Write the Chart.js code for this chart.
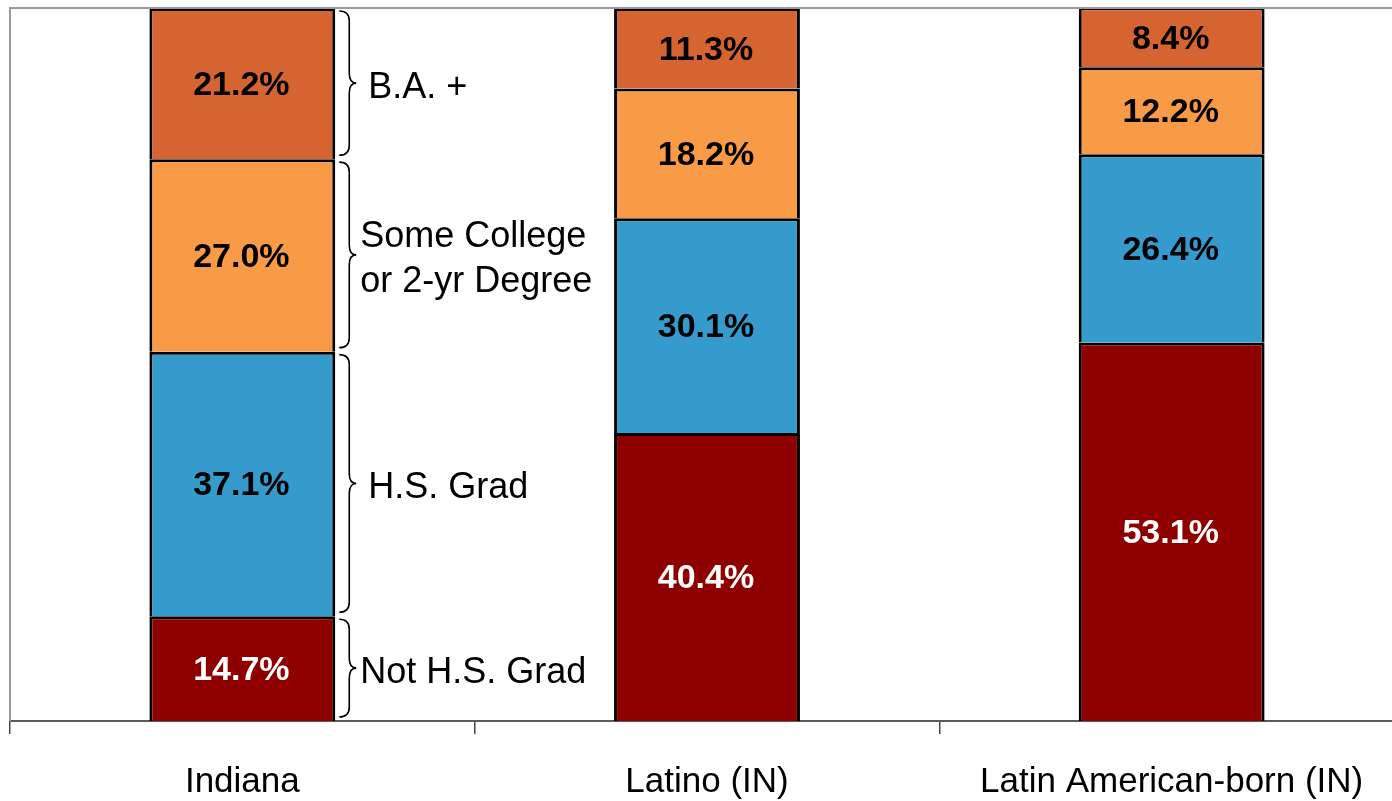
<!DOCTYPE html>
<html>
<head>
<meta charset="utf-8">
<script src="https://cdn.jsdelivr.net/npm/chart.js@4.4.1/dist/chart.umd.min.js"></script>
<style>
  html, body { margin: 0; padding: 0; background: #fff; overflow: hidden; }
  #wrap { width: 1392px; height: 801px; overflow: hidden; position: relative; }
  #box { width: 1420px; height: 801px; position: absolute; left: 0; top: 0; }
</style>
</head>
<body>
<div id="wrap"><div id="box"><canvas id="c"></canvas></div></div>
<script>
const categories = ["Indiana", "Latino (IN)", "Latin American-born (IN)"];
const seriesNames = ["Not H.S. Grad", "H.S. Grad", "Some College or 2-yr Degree", "B.A. +"];
const notHSGrad   = [14.7, 40.4, 53.1];
const hsGrad      = [37.1, 30.1, 26.4];
const someCollege = [27.0, 18.2, 12.2];
const baPlus      = [21.2, 11.3, 8.4];
const braceLabels = [["Not H.S. Grad"], ["H.S. Grad"], ["Some College", "or 2-yr Degree"], ["B.A. +"]];

const colors = ["#8E0000", "#349BCC", "#F99A47", "#D56431"];
const labelColors = ["#FFFFFF", "#000000", "#000000", "#000000"];
const braceTextDx = [25, 33, 25, 33];
const FONT = "'Liberation Sans', Arial, sans-serif";

const valuesPlugin = {
  id: 'values',
  afterDatasetsDraw(chart) {
    const ctx = chart.ctx;
    ctx.save();
    ctx.font = "bold 34px " + FONT;
    ctx.textAlign = 'center';
    ctx.textBaseline = 'middle';
    chart.data.datasets.forEach((ds, di) => {
      const meta = chart.getDatasetMeta(di);
      meta.data.forEach((bar, i) => {
        const v = ds.data[i];
        const yc = (bar.y + bar.base) / 2;
        ctx.fillStyle = labelColors[di];
        ctx.fillText(v.toFixed(1) + '%', bar.x - 1, yc + 2);
      });
    });
    ctx.restore();
  }
};

const framePlugin = {
  id: 'frame',
  afterDraw(chart) {
    const ctx = chart.ctx, a = chart.chartArea;
    ctx.save();
    ctx.strokeStyle = '#9A9A9A';
    ctx.lineWidth = 2;
    ctx.beginPath();
    ctx.moveTo(a.left, a.bottom);
    ctx.lineTo(a.left, a.top);
    ctx.lineTo(a.right, a.top);
    ctx.stroke();
    ctx.restore();
  }
};

const bracePlugin = {
  id: 'braces',
  afterDraw(chart) {
    const ctx = chart.ctx;
    ctx.save();
    ctx.strokeStyle = '#000';
    ctx.lineWidth = 1.6;
    ctx.fillStyle = '#000';
    ctx.font = "36px " + FONT;
    ctx.textAlign = 'left';
    ctx.textBaseline = 'middle';
    chart.data.datasets.forEach((ds, di) => {
      const bar = chart.getDatasetMeta(di).data[0];
      const right = bar.x + bar.width / 2;
      const top = Math.min(bar.y, bar.base) + 3;
      const bottom = Math.max(bar.y, bar.base) - 4;
      const tip = (top + bottom) / 2;
      const x0 = right + 4, xm = right + 14, xt = right + 21, r = 10;
      ctx.beginPath();
      ctx.moveTo(x0, top);
      ctx.quadraticCurveTo(xm, top, xm, top + r);
      ctx.lineTo(xm, tip - r);
      ctx.quadraticCurveTo(xm, tip, xt, tip);
      ctx.quadraticCurveTo(xm, tip, xm, tip + r);
      ctx.lineTo(xm, bottom - r);
      ctx.quadraticCurveTo(xm, bottom, x0, bottom);
      ctx.stroke();
      const lines = braceLabels[di];
      const lh = 45;
      lines.forEach((t, k) => {
        ctx.fillText(t, right + braceTextDx[di], tip + 5 + (k - (lines.length - 1) / 2) * lh);
      });
    });
    ctx.restore();
  }
};

new Chart(document.getElementById('c'), {
  type: 'bar',
  data: {
    labels: categories,
    datasets: [notHSGrad, hsGrad, someCollege, baPlus].map((d, i) => ({
      label: seriesNames[i],
      data: d,
      backgroundColor: colors[i],
      borderColor: '#000000',
      borderWidth: 3,
      barPercentage: 0.8,
      categoryPercentage: 0.5
    }))
  },
  options: {
    responsive: true,
    maintainAspectRatio: false,
    animation: false,
    layout: { padding: { left: 10, top: 8, right: 16, bottom: 0 } },
    plugins: { legend: { display: false }, tooltip: { enabled: false } },
    scales: {
      x: {
        stacked: true,
        afterFit(scale) { scale.height = 80; },
        grid: { display: true, offset: true, drawOnChartArea: false, drawTicks: true, tickLength: 13, color: '#444', lineWidth: 1.5 },
        border: { display: true, color: '#5A5A5A', width: 2 },
        ticks: { color: '#000', font: { family: FONT, size: 35 }, padding: 27 }
      },
      y: {
        stacked: true,
        display: false,
        min: 0,
        max: 100
      }
    }
  },
  plugins: [valuesPlugin, bracePlugin, framePlugin]
});
</script>
</body>
</html>
